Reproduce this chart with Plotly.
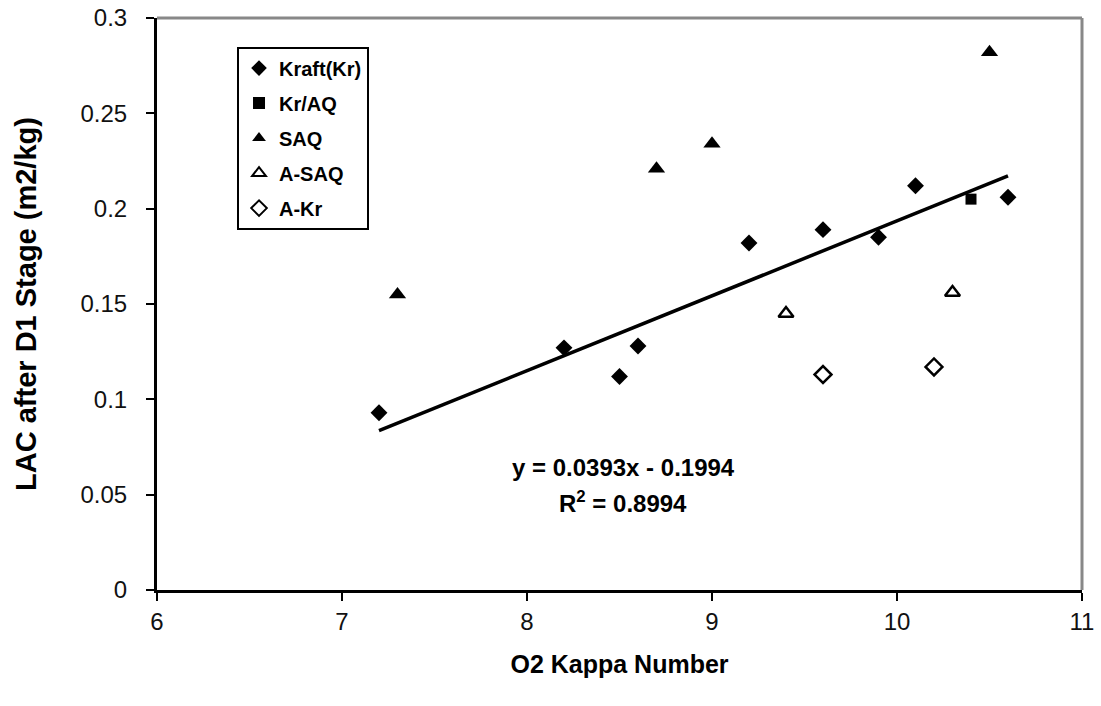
import plotly.graph_objects as go

# O2 kappa number vs. light absorption coefficient after the D1 stage
kraft_x = [7.2, 8.2, 8.5, 8.6, 9.2, 9.6, 9.9, 10.1, 10.6]
kraft_y = [0.093, 0.127, 0.112, 0.128, 0.182, 0.189, 0.185, 0.212, 0.206]

kr_aq_x = [10.4]
kr_aq_y = [0.205]

saq_x = [7.3, 8.7, 9.0, 10.5]
saq_y = [0.155, 0.221, 0.234, 0.282]

a_saq_x = [9.4, 10.3]
a_saq_y = [0.145, 0.156]

a_kr_x = [9.6, 10.2]
a_kr_y = [0.113, 0.117]

# linear fit over the kappa range of the data
slope = 0.0393
intercept = -0.1994
r_squared = 0.8994
fit_x = [7.2, 10.6]
fit_y = [slope * x + intercept for x in fit_x]

series = [
    ("Kraft(Kr)", kraft_x, kraft_y, "diamond", 13),
    ("Kr/AQ", kr_aq_x, kr_aq_y, "square", 11),
    ("SAQ", saq_x, saq_y, "triangle-up", 15),
    ("A-SAQ", a_saq_x, a_saq_y, "triangle-up-open", 13),
    ("A-Kr", a_kr_x, a_kr_y, "diamond-open", 13),
]

FONT = "Liberation Sans, Arial, sans-serif"

fig = go.Figure()
fig.add_trace(go.Scatter(
    x=fit_x, y=fit_y, mode="lines",
    line=dict(color="black", width=3.5),
    showlegend=False, hoverinfo="skip",
))
for name, xs, ys, sym, size in series:
    fig.add_trace(go.Scatter(
        x=xs, y=ys, mode="markers", name=name, legendgroup=name,
        marker=dict(symbol=sym, size=size, color="black",
                    line=dict(color="black", width=2.5 if "open" in sym else 0)),
    ))

eq_text = f"y = {slope}x - {abs(intercept)}"
r2_text = f"R<sup>2</sup> = {r_squared}"

fig.add_annotation(
    x=8.52, y=0.064, xref="x", yref="y", text=f"<b>{eq_text}</b>", showarrow=False,
    font=dict(family=FONT, size=24, color="black"),
)
fig.add_annotation(
    x=8.52, y=0.046, xref="x", yref="y", text=f"<b>{r2_text}</b>", showarrow=False,
    font=dict(family=FONT, size=24, color="black"),
)

# grey frame on the top and right of the plot area
fig.add_shape(type="line", xref="paper", yref="paper", x0=0, x1=1, y0=1, y1=1,
              line=dict(color="#888888", width=3))
fig.add_shape(type="line", xref="paper", yref="paper", x0=1, x1=1, y0=0, y1=1,
              line=dict(color="#888888", width=3))

fig.update_layout(
    width=1101, height=706,
    margin=dict(l=157, r=19, t=18, b=116),
    paper_bgcolor="white", plot_bgcolor="white",
    font=dict(family=FONT, color="black"),
    showlegend=True,
    legend=dict(
        x=0.0865, y=0.95, xanchor="left", yanchor="top",
        bordercolor="black", borderwidth=2, bgcolor="white",
        font=dict(family=FONT, size=20, color="black", weight="bold"),
        traceorder="grouped", tracegroupgap=6,
        itemsizing="constant",
    ),
    xaxis=dict(
        range=[6, 11], dtick=1, tick0=6, automargin=False,
        showgrid=False, zeroline=False,
        showline=True, linecolor="black", linewidth=3,
        ticks="outside", ticklen=8, tickwidth=2, tickcolor="black",
        tickfont=dict(family=FONT, size=24, color="#111111"),
        ticklabelstandoff=0,
        title=dict(text="<b>O2 Kappa Number</b>", standoff=22,
                   font=dict(family=FONT, size=25, color="black")),
    ),
    yaxis=dict(
        range=[0, 0.3], dtick=0.05, tick0=0, automargin=False,
        showgrid=False, zeroline=False,
        showline=True, linecolor="black", linewidth=3,
        ticks="outside", ticklen=8, tickwidth=2, tickcolor="black",
        tickfont=dict(family=FONT, size=24, color="#111111"),
        ticklabelstandoff=14,
        title=dict(text="<b>LAC after D1 Stage (m2/kg)</b>", standoff=36,
                   font=dict(family=FONT, size=29, color="black")),
    ),
)

fig.write_html("out.html")
